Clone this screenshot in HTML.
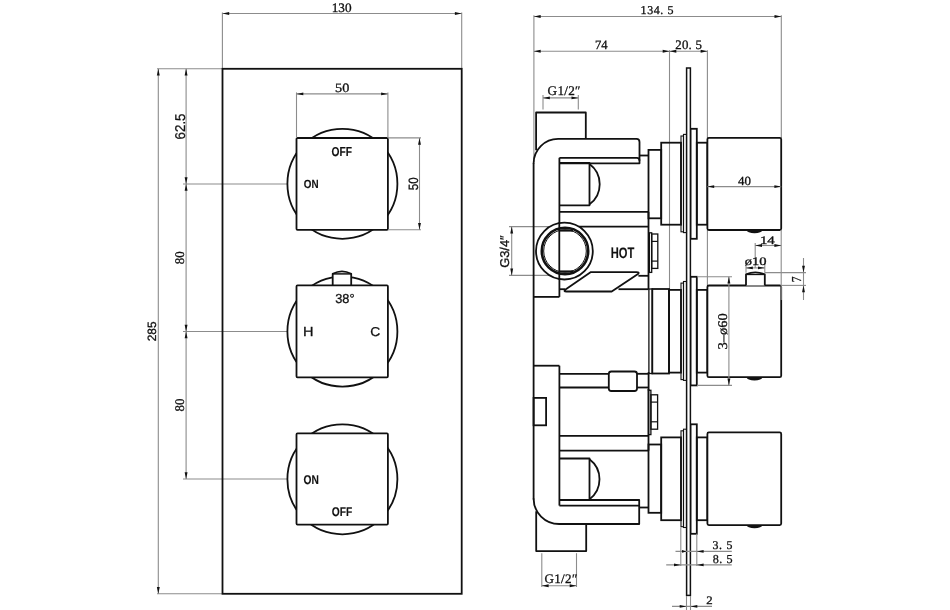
<!DOCTYPE html>
<html><head><meta charset="utf-8"><style>
html,body{margin:0;padding:0;background:#fff;}
body{width:950px;height:610px;overflow:hidden;}
svg{display:block;will-change:transform;text-rendering:geometricPrecision;}
</style></head><body>
<svg width="950" height="610" viewBox="0 0 950 610">
<rect x="0" y="0" width="950" height="610" fill="#fff"/>
<line x1="222.4" y1="12.5" x2="222.4" y2="68.8" stroke="#8c8c8c" stroke-width="1.1"/>
<line x1="461.7" y1="12.5" x2="461.7" y2="68.8" stroke="#8c8c8c" stroke-width="1.1"/>
<line x1="222.4" y1="13.5" x2="461.7" y2="13.5" stroke="#8c8c8c" stroke-width="1.1"/>
<polygon points="222.40,13.50 229.20,12.05 229.20,14.95" fill="#111"/>
<polygon points="461.70,13.50 454.90,12.05 454.90,14.95" fill="#111"/>
<line x1="157" y1="68.8" x2="222.4" y2="68.8" stroke="#8c8c8c" stroke-width="1.1"/>
<line x1="157" y1="593.8" x2="222.4" y2="593.8" stroke="#8c8c8c" stroke-width="1.1"/>
<line x1="158.3" y1="68.8" x2="158.3" y2="593.8" stroke="#8c8c8c" stroke-width="1.1"/>
<polygon points="158.30,68.80 156.85,75.60 159.75,75.60" fill="#111"/>
<polygon points="158.30,593.80 156.85,587.00 159.75,587.00" fill="#111"/>
<line x1="186.1" y1="68.8" x2="186.1" y2="479.0" stroke="#8c8c8c" stroke-width="1.1"/>
<line x1="183" y1="184.0" x2="287" y2="184.0" stroke="#8c8c8c" stroke-width="1.1"/>
<line x1="183" y1="331.5" x2="287" y2="331.5" stroke="#8c8c8c" stroke-width="1.1"/>
<line x1="183" y1="479.0" x2="287" y2="479.0" stroke="#8c8c8c" stroke-width="1.1"/>
<polygon points="186.10,68.80 184.65,75.60 187.55,75.60" fill="#111"/>
<polygon points="186.10,184.00 184.65,177.20 187.55,177.20" fill="#111"/>
<polygon points="186.10,184.00 184.65,190.80 187.55,190.80" fill="#111"/>
<polygon points="186.10,331.50 184.65,324.70 187.55,324.70" fill="#111"/>
<polygon points="186.10,331.50 184.65,338.30 187.55,338.30" fill="#111"/>
<polygon points="186.10,479.00 184.65,472.20 187.55,472.20" fill="#111"/>
<rect x="222.5" y="68.8" width="239.2" height="525.0" rx="0" fill="none" stroke="#111" stroke-width="1.8"/>
<circle cx="342.4" cy="183.8" r="55" fill="none" stroke="#111" stroke-width="1.8"/>
<rect x="296.5" y="138" width="91.4" height="91.8" rx="1" fill="#fff" stroke="#111" stroke-width="1.8"/>
<circle cx="342.4" cy="331.6" r="55" fill="none" stroke="#111" stroke-width="1.8"/>
<path d="M332.7,285.4 L332.7,273.8 Q342,268.8 351.2,273.8 L351.2,285.4" fill="#fff" stroke="#111" stroke-width="1.8" stroke-linejoin="round"/>
<line x1="332.7" y1="273.9" x2="351.2" y2="273.9" stroke="#111" stroke-width="1.5"/>
<rect x="296.5" y="285.4" width="91.4" height="91.9" rx="1" fill="#fff" stroke="#111" stroke-width="1.8"/>
<circle cx="342.4" cy="479.3" r="55" fill="none" stroke="#111" stroke-width="1.8"/>
<rect x="296.5" y="433.4" width="91.4" height="91.2" rx="1" fill="#fff" stroke="#111" stroke-width="1.8"/>
<line x1="296.5" y1="92.4" x2="296.5" y2="138" stroke="#8c8c8c" stroke-width="1.1"/>
<line x1="387.9" y1="92.4" x2="387.9" y2="138" stroke="#8c8c8c" stroke-width="1.1"/>
<line x1="296.5" y1="93.9" x2="387.9" y2="93.9" stroke="#8c8c8c" stroke-width="1.1"/>
<polygon points="296.50,93.90 303.30,92.45 303.30,95.35" fill="#111"/>
<polygon points="387.90,93.90 381.10,92.45 381.10,95.35" fill="#111"/>
<line x1="388" y1="137.9" x2="421" y2="137.9" stroke="#8c8c8c" stroke-width="1.1"/>
<line x1="388" y1="229.8" x2="421" y2="229.8" stroke="#8c8c8c" stroke-width="1.1"/>
<line x1="419.5" y1="137.9" x2="419.5" y2="229.8" stroke="#8c8c8c" stroke-width="1.1"/>
<polygon points="419.50,137.90 418.05,144.70 420.95,144.70" fill="#111"/>
<polygon points="419.50,229.80 418.05,223.00 420.95,223.00" fill="#111"/>
<line x1="533.9" y1="15.3" x2="533.9" y2="162" stroke="#8c8c8c" stroke-width="1.1"/>
<line x1="781.3" y1="15.3" x2="781.3" y2="138" stroke="#8c8c8c" stroke-width="1.1"/>
<line x1="533.9" y1="16.5" x2="781.3" y2="16.5" stroke="#8c8c8c" stroke-width="1.1"/>
<polygon points="533.90,16.50 540.70,15.05 540.70,17.95" fill="#111"/>
<polygon points="781.30,16.50 774.50,15.05 774.50,17.95" fill="#111"/>
<line x1="669.5" y1="50.2" x2="669.5" y2="289" stroke="#8c8c8c" stroke-width="1.1"/>
<line x1="707.4" y1="50.2" x2="707.4" y2="138" stroke="#8c8c8c" stroke-width="1.1"/>
<line x1="707.4" y1="230" x2="707.4" y2="285.5" stroke="#8c8c8c" stroke-width="1.1"/>
<line x1="533.9" y1="51.3" x2="707.4" y2="51.3" stroke="#8c8c8c" stroke-width="1.1"/>
<polygon points="533.90,51.30 540.70,49.85 540.70,52.75" fill="#111"/>
<polygon points="669.50,51.30 662.70,49.85 662.70,52.75" fill="#111"/>
<polygon points="669.50,51.30 676.30,49.85 676.30,52.75" fill="#111"/>
<polygon points="707.40,51.30 700.60,49.85 700.60,52.75" fill="#111"/>
<line x1="543" y1="95" x2="543" y2="109.5" stroke="#8c8c8c" stroke-width="1.1"/>
<line x1="578.3" y1="95" x2="578.3" y2="109.5" stroke="#8c8c8c" stroke-width="1.1"/>
<line x1="543" y1="97.9" x2="578.3" y2="97.9" stroke="#8c8c8c" stroke-width="1.1"/>
<polygon points="543.00,97.90 549.80,96.45 549.80,99.35" fill="#111"/>
<polygon points="578.30,97.90 571.50,96.45 571.50,99.35" fill="#111"/>
<line x1="541.8" y1="553.2" x2="541.8" y2="587" stroke="#8c8c8c" stroke-width="1.1"/>
<line x1="576.5" y1="553.2" x2="576.5" y2="587" stroke="#8c8c8c" stroke-width="1.1"/>
<line x1="541.8" y1="585.7" x2="576.5" y2="585.7" stroke="#8c8c8c" stroke-width="1.1"/>
<polygon points="541.80,585.70 548.60,584.25 548.60,587.15" fill="#111"/>
<polygon points="576.50,585.70 569.70,584.25 569.70,587.15" fill="#111"/>
<line x1="509" y1="226.6" x2="560" y2="226.6" stroke="#8c8c8c" stroke-width="1.1"/>
<line x1="509" y1="275.4" x2="560" y2="275.4" stroke="#8c8c8c" stroke-width="1.1"/>
<line x1="511.7" y1="226.6" x2="511.7" y2="275.4" stroke="#8c8c8c" stroke-width="1.1"/>
<polygon points="511.70,226.60 510.25,233.40 513.15,233.40" fill="#111"/>
<polygon points="511.70,275.40 510.25,268.60 513.15,268.60" fill="#111"/>
<path d="M536.1,150.3 L536.1,112.5 L585.8,112.5 L585.8,138.9" fill="none" stroke="#111" stroke-width="1.8" stroke-linejoin="round"/>
<path d="M536.2,511.2 L536.2,551.1 L586.2,551.1 L586.2,524" fill="none" stroke="#111" stroke-width="1.8" stroke-linejoin="round"/>
<path d="M533.6,163.4 A24.5,24.5 0 0 1 558.1,138.9 L636.5,138.9 Q639.5,138.9 639.5,141.9 L639.5,163.3 L559.4,163.3" fill="none" stroke="#111" stroke-width="1.8" stroke-linejoin="round"/>
<path d="M559.4,157.8 L636.9,157.8 Q639.5,157.8 639.5,160.8" fill="none" stroke="#111" stroke-width="1.8" stroke-linejoin="round"/>
<line x1="533.6" y1="163" x2="533.6" y2="499.5" stroke="#111" stroke-width="1.8"/>
<path d="M533.6,498.5 A25.5,25.5 0 0 0 559.1,524 L639.2,524 L639.2,500 L559.4,500" fill="none" stroke="#111" stroke-width="1.8" stroke-linejoin="round"/>
<line x1="559.4" y1="505.6" x2="639.2" y2="505.6" stroke="#111" stroke-width="1.8"/>
<line x1="559.4" y1="157.8" x2="559.4" y2="296.9" stroke="#111" stroke-width="1.8"/>
<line x1="533.6" y1="296.9" x2="559.4" y2="296.9" stroke="#111" stroke-width="1.8"/>
<line x1="533.6" y1="365.7" x2="559.4" y2="365.7" stroke="#111" stroke-width="1.8"/>
<line x1="559.4" y1="365.7" x2="559.4" y2="505.6" stroke="#111" stroke-width="1.8"/>
<line x1="639.5" y1="155.5" x2="648.5" y2="155.5" stroke="#111" stroke-width="1.8"/>
<line x1="639.2" y1="507.5" x2="648.5" y2="507.5" stroke="#111" stroke-width="1.8"/>
<path d="M559.3,163 L589.5,163 L589.5,205.3 L559.3,205.3" fill="none" stroke="#111" stroke-width="1.8" stroke-linejoin="round"/>
<path d="M589.5,164 A25,25 0 0 1 589.5,204.3" fill="none" stroke="#111" stroke-width="1.8" stroke-linejoin="round"/>
<line x1="559.3" y1="211.9" x2="648.5" y2="211.9" stroke="#111" stroke-width="1.8"/>
<line x1="578.6" y1="226.6" x2="648.5" y2="226.6" stroke="#111" stroke-width="1.8"/>
<line x1="648.5" y1="211.9" x2="648.5" y2="289.2" stroke="#111" stroke-width="1.8"/>
<path d="M559.3,458.5 L589.5,458.5 L589.5,499.8" fill="none" stroke="#111" stroke-width="1.8" stroke-linejoin="round"/>
<path d="M589.5,459.2 A25,25 0 0 1 589.5,499.2" fill="none" stroke="#111" stroke-width="1.8" stroke-linejoin="round"/>
<line x1="559.3" y1="435.8" x2="648.5" y2="435.8" stroke="#111" stroke-width="1.8"/>
<line x1="559.3" y1="450.7" x2="648.5" y2="450.7" stroke="#111" stroke-width="1.8"/>
<line x1="648.5" y1="389" x2="648.5" y2="450.7" stroke="#111" stroke-width="1.8"/>
<line x1="559.3" y1="373.8" x2="608.8" y2="373.8" stroke="#111" stroke-width="1.8"/>
<line x1="559.3" y1="387.5" x2="608.8" y2="387.5" stroke="#111" stroke-width="1.8"/>
<line x1="637" y1="373.8" x2="648.5" y2="373.8" stroke="#111" stroke-width="1.8"/>
<line x1="637" y1="387.5" x2="648.5" y2="387.5" stroke="#111" stroke-width="1.8"/>
<line x1="648.6" y1="372" x2="648.6" y2="390.5" stroke="#111" stroke-width="1.8"/>
<rect x="608.8" y="371.5" width="28.2" height="19.5" rx="2.5" fill="none" stroke="#111" stroke-width="1.8"/>
<rect x="533.6" y="397.9" width="12.5" height="27.4" rx="0" fill="none" stroke="#111" stroke-width="1.8"/>
<circle cx="564.4" cy="251.1" r="28.4" fill="#fff" stroke="#111" stroke-width="1.8"/>
<circle cx="565.0" cy="251.0" r="23.2" fill="none" stroke="#111" stroke-width="2.6"/>
<circle cx="565.0" cy="251.0" r="21.3" fill="none" stroke="#111" stroke-width="1"/>
<line x1="559.3" y1="222.6" x2="559.3" y2="279.6" stroke="#111" stroke-width="1.8"/>
<line x1="559.3" y1="230.6" x2="573" y2="230.6" stroke="#111" stroke-width="2"/>
<line x1="559.3" y1="271.4" x2="573" y2="271.4" stroke="#111" stroke-width="2"/>
<path d="M590.9,272.1 L636.5,272.1 Q640,272.1 638,274 L611.7,291.5 L566.5,291.5 Q563,291.5 565.5,289.5 Z" fill="none" stroke="#111" stroke-width="1.8" stroke-linejoin="round"/>
<line x1="638.4" y1="275.8" x2="648.5" y2="275.8" stroke="#111" stroke-width="1.8"/>
<line x1="618.5" y1="289.2" x2="648.5" y2="289.2" stroke="#111" stroke-width="1.8"/>
<line x1="559.3" y1="289.2" x2="565" y2="289.2" stroke="#111" stroke-width="1.8"/>
<rect x="649.4" y="232.8" width="2.3" height="39.6" rx="0" fill="none" stroke="#111" stroke-width="1.3"/>
<rect x="651.7" y="234" width="6.1" height="34.4" rx="0" fill="none" stroke="#111" stroke-width="1.3"/>
<line x1="651.7" y1="241.4" x2="657.8" y2="241.4" stroke="#111" stroke-width="1.2"/>
<line x1="651.7" y1="261.1" x2="657.8" y2="261.1" stroke="#111" stroke-width="1.2"/>
<rect x="648.5" y="390.3" width="2.4" height="44.3" rx="0" fill="none" stroke="#111" stroke-width="1.3"/>
<rect x="650.9" y="394.8" width="6.7" height="34.4" rx="0" fill="none" stroke="#111" stroke-width="1.3"/>
<line x1="650.9" y1="402.1" x2="657.6" y2="402.1" stroke="#111" stroke-width="1.2"/>
<line x1="650.9" y1="421.8" x2="657.6" y2="421.8" stroke="#111" stroke-width="1.2"/>
<rect x="648.5" y="149.9" width="12.7" height="68.4" rx="0" fill="none" stroke="#111" stroke-width="1.8"/>
<rect x="661.2" y="142.7" width="19.8" height="82.0" rx="0" fill="none" stroke="#111" stroke-width="1.8"/>
<rect x="681.0" y="136.0" width="2.5" height="95.8" rx="0" fill="none" stroke="#111" stroke-width="1.1"/>
<rect x="683.5" y="134.4" width="3.0" height="98.2" rx="0" fill="none" stroke="#111" stroke-width="1.1"/>
<rect x="690.5" y="128.8" width="6.3" height="110.0" rx="0" fill="none" stroke="#111" stroke-width="1.8"/>
<rect x="696.8" y="142.7" width="10.6" height="82.0" rx="0" fill="none" stroke="#111" stroke-width="1.8"/>
<path d="M746.5,230 A8,3.2 0 0 0 762.5,230 Z" fill="#111"/>
<rect x="707.4" y="137.8" width="73.8" height="92.2" rx="1.5" fill="#fff" stroke="#111" stroke-width="1.8"/>
<rect x="648.9" y="289.0" width="3.4" height="84.5" rx="0" fill="none" stroke="#111" stroke-width="1.3"/>
<rect x="652.3" y="289.0" width="16.7" height="84.5" rx="0" fill="none" stroke="#111" stroke-width="1.8"/>
<rect x="669.0" y="289.9" width="12.0" height="82.7" rx="0" fill="none" stroke="#111" stroke-width="1.8"/>
<rect x="681.0" y="283.1" width="2.5" height="96.5" rx="0" fill="none" stroke="#111" stroke-width="1.1"/>
<rect x="683.5" y="281.5" width="3.0" height="98.9" rx="0" fill="none" stroke="#111" stroke-width="1.1"/>
<rect x="690.5" y="276.8" width="6.3" height="108.6" rx="0" fill="none" stroke="#111" stroke-width="1.8"/>
<rect x="696.8" y="289.9" width="10.6" height="82.7" rx="0" fill="none" stroke="#111" stroke-width="1.8"/>
<path d="M746.5,377.2 A8,3.2 0 0 0 762.5,377.2 Z" fill="#111"/>
<rect x="707.4" y="285.5" width="73.8" height="91.7" rx="1.5" fill="#fff" stroke="#111" stroke-width="1.8"/>
<rect x="648.5" y="444.5" width="12.7" height="68.3" rx="0" fill="none" stroke="#111" stroke-width="1.8"/>
<rect x="661.2" y="437.4" width="19.8" height="82.8" rx="0" fill="none" stroke="#111" stroke-width="1.8"/>
<rect x="681.0" y="430.8" width="2.5" height="95.9" rx="0" fill="none" stroke="#111" stroke-width="1.1"/>
<rect x="683.5" y="429.2" width="3.0" height="98.3" rx="0" fill="none" stroke="#111" stroke-width="1.1"/>
<rect x="690.5" y="424.3" width="6.3" height="109.5" rx="0" fill="none" stroke="#111" stroke-width="1.8"/>
<rect x="696.8" y="437.4" width="10.6" height="82.8" rx="0" fill="none" stroke="#111" stroke-width="1.8"/>
<path d="M746.5,525.1 A8,3.2 0 0 0 762.5,525.1 Z" fill="#111"/>
<rect x="707.4" y="432.4" width="73.8" height="92.7" rx="1.5" fill="#fff" stroke="#111" stroke-width="1.8"/>
<rect x="686.6" y="68.0" width="3.8" height="527.4" rx="0" fill="#fff" stroke="#111" stroke-width="1.5"/>
<path d="M746,285.5 L746,274.4 Q755.4,270.4 764.8,274.4 L764.8,285.5" fill="#fff" stroke="#111" stroke-width="1.8" stroke-linejoin="round"/>
<line x1="746" y1="274.5" x2="764.8" y2="274.5" stroke="#111" stroke-width="1.3"/>
<line x1="707.4" y1="186.6" x2="781.2" y2="186.6" stroke="#8c8c8c" stroke-width="1.1"/>
<polygon points="707.40,186.60 714.20,185.15 714.20,188.05" fill="#111"/>
<polygon points="781.20,186.60 774.40,185.15 774.40,188.05" fill="#111"/>
<line x1="755.2" y1="243" x2="755.2" y2="268" stroke="#8c8c8c" stroke-width="1.1"/>
<line x1="781.2" y1="230" x2="781.2" y2="300" stroke="#8c8c8c" stroke-width="1.1"/>
<line x1="755.2" y1="245.5" x2="781.2" y2="245.5" stroke="#8c8c8c" stroke-width="1.1"/>
<polygon points="755.20,245.50 762.00,244.05 762.00,246.95" fill="#111"/>
<polygon points="781.20,245.50 774.40,244.05 774.40,246.95" fill="#111"/>
<line x1="746" y1="263" x2="746" y2="272.7" stroke="#8c8c8c" stroke-width="1.1"/>
<line x1="764.8" y1="263" x2="764.8" y2="272.7" stroke="#8c8c8c" stroke-width="1.1"/>
<line x1="746" y1="267.9" x2="764.8" y2="267.9" stroke="#8c8c8c" stroke-width="1.1"/>
<polygon points="746.00,267.90 752.80,266.45 752.80,269.35" fill="#111"/>
<polygon points="764.80,267.90 758.00,266.45 758.00,269.35" fill="#111"/>
<line x1="764.8" y1="272.6" x2="806" y2="272.6" stroke="#8c8c8c" stroke-width="1.1"/>
<line x1="781.2" y1="285.4" x2="806" y2="285.4" stroke="#8c8c8c" stroke-width="1.1"/>
<line x1="803.5" y1="258" x2="803.5" y2="300" stroke="#8c8c8c" stroke-width="1.1"/>
<polygon points="803.50,272.60 802.05,265.80 804.95,265.80" fill="#111"/>
<polygon points="803.50,285.40 802.05,292.20 804.95,292.20" fill="#111"/>
<line x1="697" y1="276.8" x2="732" y2="276.8" stroke="#8c8c8c" stroke-width="1.1"/>
<line x1="697" y1="385.4" x2="732" y2="385.4" stroke="#8c8c8c" stroke-width="1.1"/>
<line x1="728.9" y1="276.8" x2="728.9" y2="385.4" stroke="#8c8c8c" stroke-width="1.1"/>
<polygon points="728.90,276.80 727.45,283.60 730.35,283.60" fill="#111"/>
<polygon points="728.90,385.40 727.45,378.60 730.35,378.60" fill="#111"/>
<line x1="680.8" y1="527.5" x2="680.8" y2="566" stroke="#8c8c8c" stroke-width="1.1"/>
<line x1="696.8" y1="533.8" x2="696.8" y2="566" stroke="#8c8c8c" stroke-width="1.1"/>
<line x1="675.5" y1="551.4" x2="731.8" y2="551.4" stroke="#8c8c8c" stroke-width="1.1"/>
<polygon points="686.50,551.40 682.00,549.95 682.00,552.85" fill="#111"/>
<polygon points="696.80,551.40 703.60,549.95 703.60,552.85" fill="#111"/>
<line x1="666.2" y1="564.9" x2="731.8" y2="564.9" stroke="#8c8c8c" stroke-width="1.1"/>
<polygon points="680.80,564.90 674.00,563.45 674.00,566.35" fill="#111"/>
<polygon points="696.80,564.90 703.60,563.45 703.60,566.35" fill="#111"/>
<line x1="686.5" y1="596" x2="686.5" y2="610" stroke="#8c8c8c" stroke-width="1.1"/>
<line x1="690.5" y1="596" x2="690.5" y2="610" stroke="#8c8c8c" stroke-width="1.1"/>
<line x1="672" y1="606.4" x2="712" y2="606.4" stroke="#8c8c8c" stroke-width="1.1"/>
<polygon points="686.50,606.40 679.70,604.95 679.70,607.85" fill="#111"/>
<polygon points="690.50,606.40 697.30,604.95 697.30,607.85" fill="#111"/>
<text x="331.700" y="11.550" font-family="Liberation Serif" font-size="12.857" textLength="19.866" lengthAdjust="spacingAndGlyphs" font-weight="normal" fill="#111" stroke="#111" stroke-width="0.3">130</text>
<text x="335.050" y="91.550" font-family="Liberation Serif" font-size="12.757" textLength="14.219" lengthAdjust="spacingAndGlyphs" font-weight="normal" fill="#111" stroke="#111" stroke-width="0.3">50</text>
<text transform="translate(156.150,341.300) rotate(-90)" x="0" y="0" font-family="Liberation Sans" font-size="12.067" textLength="19.794" lengthAdjust="spacingAndGlyphs" font-weight="normal" fill="#111" stroke="#111" stroke-width="0.3">285</text>
<text transform="translate(184.750,139.400) rotate(-90)" x="0" y="0" font-family="Liberation Sans" font-size="14.201" textLength="25.897" lengthAdjust="spacingAndGlyphs" font-weight="normal" fill="#111" stroke="#111" stroke-width="0.3">62.5</text>
<text transform="translate(183.950,264.150) rotate(-90)" x="0" y="0" font-family="Liberation Serif" font-size="13.170" textLength="12.871" lengthAdjust="spacingAndGlyphs" font-weight="normal" fill="#111" stroke="#111" stroke-width="0.3">80</text>
<text transform="translate(183.950,411.450) rotate(-90)" x="0" y="0" font-family="Liberation Serif" font-size="13.170" textLength="12.843" lengthAdjust="spacingAndGlyphs" font-weight="normal" fill="#111" stroke="#111" stroke-width="0.3">80</text>
<text transform="translate(417.750,190.150) rotate(-90)" x="0" y="0" font-family="Liberation Sans" font-size="13.489" textLength="12.855" lengthAdjust="spacingAndGlyphs" font-weight="normal" fill="#111" stroke="#111" stroke-width="0.3">50</text>
<text x="331.550" y="155.550" font-family="Liberation Sans" font-size="12.946" textLength="20.434" lengthAdjust="spacingAndGlyphs" font-weight="bold" fill="#111" stroke="#111" stroke-width="0.12">OFF</text>
<text x="303.850" y="188.450" font-family="Liberation Sans" font-size="11.826" textLength="14.760" lengthAdjust="spacingAndGlyphs" font-weight="bold" fill="#111" stroke="#111" stroke-width="0.12">ON</text>
<text x="335.250" y="303.350" font-family="Liberation Sans" font-size="13.066" textLength="19.282" lengthAdjust="spacingAndGlyphs" font-weight="normal" fill="#111" stroke="#111" stroke-width="0.3">38°</text>
<text x="303.000" y="336.150" font-family="Liberation Sans" font-size="13.123" textLength="10.480" lengthAdjust="spacingAndGlyphs" font-weight="normal" fill="#111" stroke="#111" stroke-width="0.3">H</text>
<text x="370.300" y="336.150" font-family="Liberation Sans" font-size="12.778" textLength="10.033" lengthAdjust="spacingAndGlyphs" font-weight="normal" fill="#111" stroke="#111" stroke-width="0.3">C</text>
<text x="303.450" y="484.350" font-family="Liberation Sans" font-size="12.685" textLength="15.337" lengthAdjust="spacingAndGlyphs" font-weight="bold" fill="#111" stroke="#111" stroke-width="0.12">ON</text>
<text x="331.750" y="516.350" font-family="Liberation Sans" font-size="12.685" textLength="20.516" lengthAdjust="spacingAndGlyphs" font-weight="bold" fill="#111" stroke="#111" stroke-width="0.12">OFF</text>
<text x="640.600" y="14.450" font-family="Liberation Serif" font-size="12.045" textLength="32.927" lengthAdjust="spacing" font-weight="normal" fill="#111" stroke="#111" stroke-width="0.3">134. 5</text>
<text x="594.950" y="49.150" font-family="Liberation Serif" font-size="12.757" textLength="12.602" lengthAdjust="spacingAndGlyphs" font-weight="normal" fill="#111" stroke="#111" stroke-width="0.3">74</text>
<text x="675.300" y="49.250" font-family="Liberation Serif" font-size="12.857" textLength="26.581" lengthAdjust="spacing" font-weight="normal" fill="#111" stroke="#111" stroke-width="0.3">20. 5</text>
<text x="547.600" y="94.650" font-family="Liberation Serif" font-size="13.170" textLength="32.938" lengthAdjust="spacing" font-weight="normal" fill="#111" stroke="#111" stroke-width="0.3">G1/2″</text>
<text x="544.500" y="582.750" font-family="Liberation Serif" font-size="13.041" textLength="32.850" lengthAdjust="spacing" font-weight="normal" fill="#111" stroke="#111" stroke-width="0.3">G1/2″</text>
<text transform="translate(509.350,267.800) rotate(-90)" x="0" y="0" font-family="Liberation Sans" font-size="12.747" textLength="32.433" lengthAdjust="spacingAndGlyphs" font-weight="normal" fill="#111" stroke="#111" stroke-width="0.3">G3/4″</text>
<text x="610.750" y="257.850" font-family="Liberation Sans" font-size="15.132" textLength="23.591" lengthAdjust="spacingAndGlyphs" font-weight="bold" fill="#111" stroke="#111" stroke-width="0.12">HOT</text>
<text x="738.000" y="184.950" font-family="Liberation Serif" font-size="12.458" textLength="12.878" lengthAdjust="spacingAndGlyphs" font-weight="normal" fill="#111" stroke="#111" stroke-width="0.3">40</text>
<text x="759.900" y="243.750" font-family="Liberation Serif" font-size="11.429" textLength="14.906" lengthAdjust="spacingAndGlyphs" font-weight="normal" fill="#111" stroke="#111" stroke-width="0.3">14</text>
<text x="744.650" y="265.150" font-family="Liberation Serif" font-size="11.468" textLength="21.849" lengthAdjust="spacingAndGlyphs" font-weight="normal" fill="#111" stroke="#111" stroke-width="0.3">ø10</text>
<text transform="translate(801.450,282.200) rotate(-90)" x="0" y="0" font-family="Liberation Serif" font-size="13.682" textLength="5.767" lengthAdjust="spacingAndGlyphs" font-weight="normal" fill="#111" stroke="#111" stroke-width="0.3">7</text>
<text transform="translate(727.450,349.500) rotate(-90)" x="0" y="0" font-family="Liberation Serif" font-size="13.338" textLength="36.176" lengthAdjust="spacingAndGlyphs" font-weight="normal" fill="#111" stroke="#111" stroke-width="0.3">3–ø60</text>
<text x="712.400" y="549.250" font-family="Liberation Serif" font-size="11.887" textLength="20.099" lengthAdjust="spacing" font-weight="normal" fill="#111" stroke="#111" stroke-width="0.3">3. 5</text>
<text x="712.650" y="563.350" font-family="Liberation Serif" font-size="12.143" textLength="19.844" lengthAdjust="spacing" font-weight="normal" fill="#111" stroke="#111" stroke-width="0.3">8. 5</text>
<text x="706.300" y="604.250" font-family="Liberation Serif" font-size="11.429" textLength="6.395" lengthAdjust="spacingAndGlyphs" font-weight="normal" fill="#111" stroke="#111" stroke-width="0.3">2</text>
</svg>
</body></html>
